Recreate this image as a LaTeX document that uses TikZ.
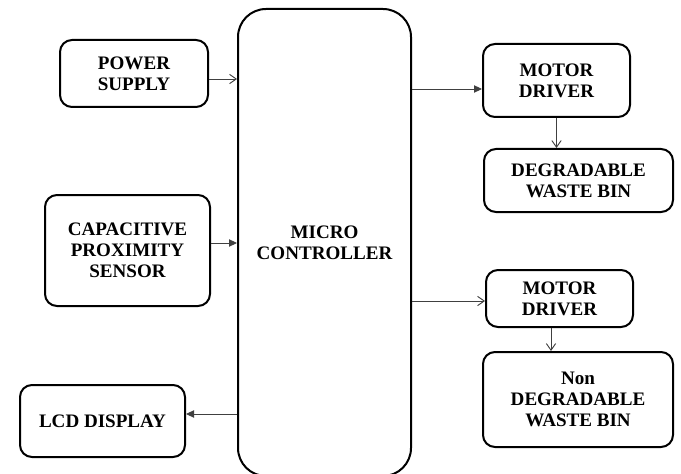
\documentclass[tikz,border=0pt]{standalone}
\usepackage{fontspec}
\setmainfont{Liberation Serif}
\usetikzlibrary{arrows.meta}
\tikzset{
  blk/.style={draw=black, line width=1.5pt, rounded corners=9pt, align=center, inner sep=0pt,
    font=\bfseries\fontsize{14.3}{15.8}\selectfont},
  openarr/.style={draw=black!75, line width=0.7pt, -{Straight Barb[length=5pt,width=7pt]}},
  fillarr/.style={draw=black!75, line width=0.7pt, -{Triangle[length=6pt,width=5.5pt]}},
}
\begin{document}
\begin{tikzpicture}[x=0.75pt,y=-0.75pt]
\useasboundingbox (0,0) rectangle (681,474);
\node[blk, minimum width=148*0.75pt, minimum height=67*0.75pt] (ps) at (134,73.5) {POWER\\SUPPLY};
\node[blk, minimum width=165*0.75pt, minimum height=111*0.75pt] (cap) at (127.5,250.5) {CAPACITIVE\\PROXIMITY\\SENSOR};
\node[blk, minimum width=165*0.75pt, minimum height=72*0.75pt] (lcd) at (102.5,421) {LCD DISPLAY};
\node[blk, rounded corners=21pt, minimum width=173*0.75pt, minimum height=467*0.75pt] (mc) at (324.5,242.5) {MICRO\\CONTROLLER};
\node[blk, minimum width=147*0.75pt, minimum height=73*0.75pt] (md1) at (556.5,80.5) {MOTOR\\DRIVER};
\node[blk, minimum width=189*0.75pt, minimum height=63*0.75pt] (deg) at (578.5,180.5) {DEGRADABLE\\WASTE BIN};
\node[blk, minimum width=147*0.75pt, minimum height=57*0.75pt] (md2) at (559.5,298.5) {MOTOR\\DRIVER};
\node[blk, minimum width=190*0.75pt, minimum height=95*0.75pt] (nd) at (578,399.5) {Non\\DEGRADABLE\\WASTE BIN};
\draw[openarr] (ps.east |- 0,79) -- (mc.west |- 0,79);
\draw[fillarr] (cap.east |- 0,243) -- (mc.west |- 0,243);
\draw[fillarr] (mc.west |- 0,414) -- (lcd.east |- 0,414);
\draw[fillarr] (mc.east |- 0,89) -- (md1.west |- 0,89);
\draw[openarr] (md1.south) -- (md1.south |- deg.north);
\draw[openarr] (mc.east |- 0,301) -- (md2.west |- 0,301);
\draw[openarr] (md2.south -| 551,0) -- (nd.north -| 551,0);
\end{tikzpicture}
\end{document}
